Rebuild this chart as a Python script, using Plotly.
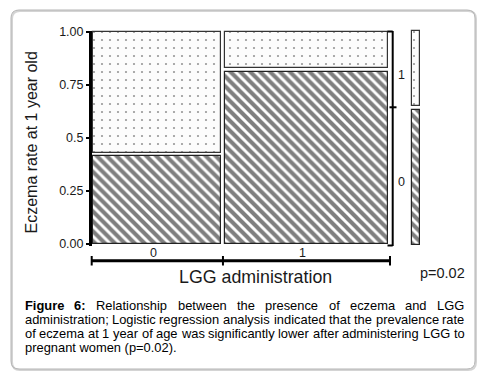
import plotly.graph_objects as go

W, H = 483, 382

# ---------------- data ----------------
groups = ["0", "1"]                    # LGG administration
group_share = [0.44, 0.56]             # column widths (share of subjects)
rate_outcome0 = [0.42, 0.82]           # share with outcome "0" (hatched)
outcome_labels = ["0", "1"]            # outcome categories (right side)
ytick_vals = [0, 0.25, 0.5, 0.75, 1.0]
ytick_text = ["0.00", "0.25", "0.5", "0.75", "1.00"]
x_title = "LGG administration"
y_title = "Eczema rate at 1 year old"
p_text = "p=0.02"

caption_lines = [
    ["<b>Figure</b>", "<b>6:</b>", "Relationship", "between", "the", "presence", "of", "eczema", "and", "LGG"],
    "administration; Logistic regression analysis indicated that the prevalence rate".split(" "),
    "of eczema at 1 year of age was significantly lower after administering LGG to".split(" "),
    ["pregnant women (p=0.02)."],
]

FONT = "Liberation Sans, Arial, sans-serif"

# ---------------- pixel <-> data helpers (layout only) ----------------
X0PX, X1PX = 91.7, 390.0        # data x 0..1
Y0PX, Y1PX = 243.5, 32.0        # data y 0..1
XU = X1PX - X0PX
YU = Y0PX - Y1PX
DOMX = (50, 445)
DOMY = (20, 290)


def px(xp):
    return xp / W


def py(yp):
    return 1 - yp / H


def dx(xp):
    return (xp - X0PX) / XU


def dy(yp):
    return (Y0PX - yp) / YU


# ---------------- mosaic geometry from data ----------------
gap_x = 3.3 / XU
gap_y = 3.2 / YU
lefts = []
acc = 0
for s in group_share:
    lefts.append(acc)
    acc += s
centers = [l + s / 2 for l, s in zip(lefts, group_share)]
widths = [s - gap_x for s in group_share]
marginal0 = sum(s * r for s, r in zip(group_share, rate_outcome0))

hatch = dict(shape="\\", fgcolor="black", bgcolor="white", size=7, solidity=0.58)
dots = dict(shape=".", fgcolor="#333", bgcolor="#fcfcfc", size=8, solidity=0.06)

fig = go.Figure()
fig.add_trace(go.Bar(
    x=centers, y=[r - gap_y / 2 for r in rate_outcome0], base=[0] * len(groups),
    width=widths, name=outcome_labels[0],
    marker=dict(color="white", line=dict(color="#222", width=1.2), pattern=hatch),
))
fig.add_trace(go.Bar(
    x=centers, y=[1 - r - gap_y / 2 for r in rate_outcome0],
    base=[r + gap_y / 2 for r in rate_outcome0],
    width=widths, name=outcome_labels[1],
    marker=dict(color="white", line=dict(color="#333", width=1.2), pattern=dots),
))
# marginal bar
mx = dx(416)
mw = 8 / XU
fig.add_trace(go.Bar(
    x=[mx], y=[marginal0 - gap_y / 2], base=[dy(245)], width=[mw],
    marker=dict(color="white", line=dict(color="#222", width=1.2), pattern=hatch),
))
fig.add_trace(go.Bar(
    x=[mx], y=[1.004 - marginal0 - gap_y / 2], base=[marginal0 + gap_y / 2], width=[mw],
    marker=dict(color="white", line=dict(color="#333", width=1.2), pattern=dots),
))

shapes = []


def rrect(x0, y0, x1, y1, r):
    P = lambda a, b: f"{px(a)},{py(b)}"
    return (f"M {P(x0 + r, y0)} L {P(x1 - r, y0)} Q {P(x1, y0)} {P(x1, y0 + r)} "
            f"L {P(x1, y1 - r)} Q {P(x1, y1)} {P(x1 - r, y1)} L {P(x0 + r, y1)} "
            f"Q {P(x0, y1)} {P(x0, y1 - r)} L {P(x0, y0 + r)} Q {P(x0, y0)} {P(x0 + r, y0)} Z")


shapes.append(dict(type="path", xref="paper", yref="paper", path=rrect(12, 11, 476, 370, 8),
                   line=dict(color="#d4d4d4", width=2), layer="below"))
shapes.append(dict(type="path", xref="paper", yref="paper", path=rrect(11, 10, 475, 369, 8),
                   line=dict(color="#b4b4b4", width=1), layer="below"))
# left axis line
shapes.append(dict(type="line", xref="paper", yref="y", x0=px(90.5), x1=px(90.5),
                   y0=dy(246), y1=dy(31), line=dict(color="black", width=3)))
# bottom bracket
yb = 260.7
shapes.append(dict(type="line", xref="x", yref="paper", x0=0, x1=acc, y0=py(yb), y1=py(yb),
                   line=dict(color="black", width=3)))
for xv in lefts + [acc]:
    shapes.append(dict(type="line", xref="x", yref="paper", x0=xv, x1=xv,
                       y0=py(256), y1=py(265.5), line=dict(color="black", width=2)))
# right axis
xr = 392.7
shapes.append(dict(type="line", xref="paper", yref="y", x0=px(xr), x1=px(xr),
                   y0=dy(246), y1=dy(31), line=dict(color="black", width=2)))
for yv, a, b in [(dy(245.5), 387.5, xr), (dy(31.5), 387.5, xr), (marginal0, 389.5, 396.5)]:
    shapes.append(dict(type="line", xref="paper", yref="y", x0=px(a), x1=px(b),
                       y0=yv, y1=yv, line=dict(color="black", width=2)))

ann = []
txtc = "#1a1a1a"
base_ann = dict(showarrow=False, xanchor="center", yanchor="middle", borderpad=0)
# column labels
for c, g in zip(centers, groups):
    ann.append(dict(base_ann, x=c, y=py(252.8), xref="x", yref="paper", text=g,
                    xshift=-4, font=dict(size=12.5, color=txtc, family=FONT)))
# outcome labels on right
mids = [marginal0 / 2, (marginal0 + 1) / 2]
for m, lab, sh in zip(mids, outcome_labels, [-7, -5]):
    ann.append(dict(base_ann, x=px(401), y=m, xref="paper", yref="y", text=lab,
                    yshift=sh, font=dict(size=12.5, color=txtc, family=FONT)))
# titles
ann.append(dict(base_ann, x=px(255), y=py(277), xref="paper", yref="paper", text=x_title,
                font=dict(size=17.8, color=txtc, family=FONT)))
ann.append(dict(base_ann, x=px(31), y=py(142.5), xref="paper", yref="paper", text=y_title,
                textangle=-90, font=dict(size=16, color=txtc, family=FONT)))
ann.append(dict(base_ann, x=px(442.5), y=py(273.3), xref="paper", yref="paper", text=p_text,
                font=dict(size=14.5, color=txtc, family=FONT)))

# caption with justified layout (Arial / Liberation Sans metrics)
REG = {' ': 278, '(': 333, ')': 333, '.': 278, ':': 278, ';': 278, '=': 584,
       'A': 667, 'F': 611, 'G': 778, 'L': 556, 'R': 722,
       'a': 556, 'b': 556, 'c': 500, 'd': 556, 'e': 556, 'f': 278, 'g': 556, 'h': 556,
       'i': 222, 'j': 222, 'k': 500, 'l': 222, 'm': 833, 'n': 556, 'o': 556, 'p': 556,
       'q': 556, 'r': 333, 's': 500, 't': 278, 'u': 556, 'v': 500, 'w': 722, 'x': 500,
       'y': 500, 'z': 500}
BOLD = {'F': 611, 'i': 278, 'g': 611, 'u': 611, 'r': 389, 'e': 556, ':': 333}
CAP_FS = 12.9


def word_w(w):
    bold = w.startswith("<b>")
    t = w.replace("<b>", "").replace("</b>", "")
    tot = 0
    for ch in t:
        if ch.isdigit():
            tot += 556
        else:
            tot += (BOLD if bold else REG).get(ch, 556)
    return tot / 1000 * CAP_FS


CX0, CX1 = 23.5, 463.5
line_y = [305, 319, 333, 347]
for i, words in enumerate(caption_lines):
    if i == len(caption_lines) - 1:
        ann.append(dict(base_ann, x=px(CX0), y=py(line_y[i]), xref="paper", yref="paper",
                        text=" ".join(words), xanchor="left",
                        font=dict(size=CAP_FS, color="black", family=FONT)))
        continue
    ws = [word_w(w) for w in words]
    gap = (CX1 - CX0 - sum(ws)) / (len(words) - 1)
    xcur = CX0
    for w, wid in zip(words, ws):
        ann.append(dict(base_ann, x=px(xcur), y=py(line_y[i]), xref="paper", yref="paper",
                        text=w, xanchor="left",
                        font=dict(size=CAP_FS, color="black", family=FONT)))
        xcur += wid + gap

fig.update_layout(
    width=W, height=H, margin=dict(l=0, r=0, t=0, b=0),
    paper_bgcolor="white", plot_bgcolor="rgba(0,0,0,0)",
    barmode="overlay", showlegend=False, bargap=0,
    xaxis=dict(domain=[px(DOMX[0]), px(DOMX[1])], range=[dx(DOMX[0]), dx(DOMX[1])],
               visible=False, fixedrange=True),
    yaxis=dict(domain=[py(DOMY[1]), py(DOMY[0])], range=[dy(DOMY[1]), dy(DOMY[0])],
               anchor="free", position=px(91), showline=False, showgrid=False, zeroline=False,
               ticks="outside", ticklen=5, tickwidth=2, tickcolor="black",
               tickvals=ytick_vals, ticktext=ytick_text,
               tickfont=dict(size=12.5, color=txtc, family=FONT), fixedrange=True),
    shapes=shapes, annotations=ann,
)

fig.write_html("out.html", config={"displayModeBar": False},
               post_script="document.body.style.margin='0';document.body.style.overflow='hidden';")
